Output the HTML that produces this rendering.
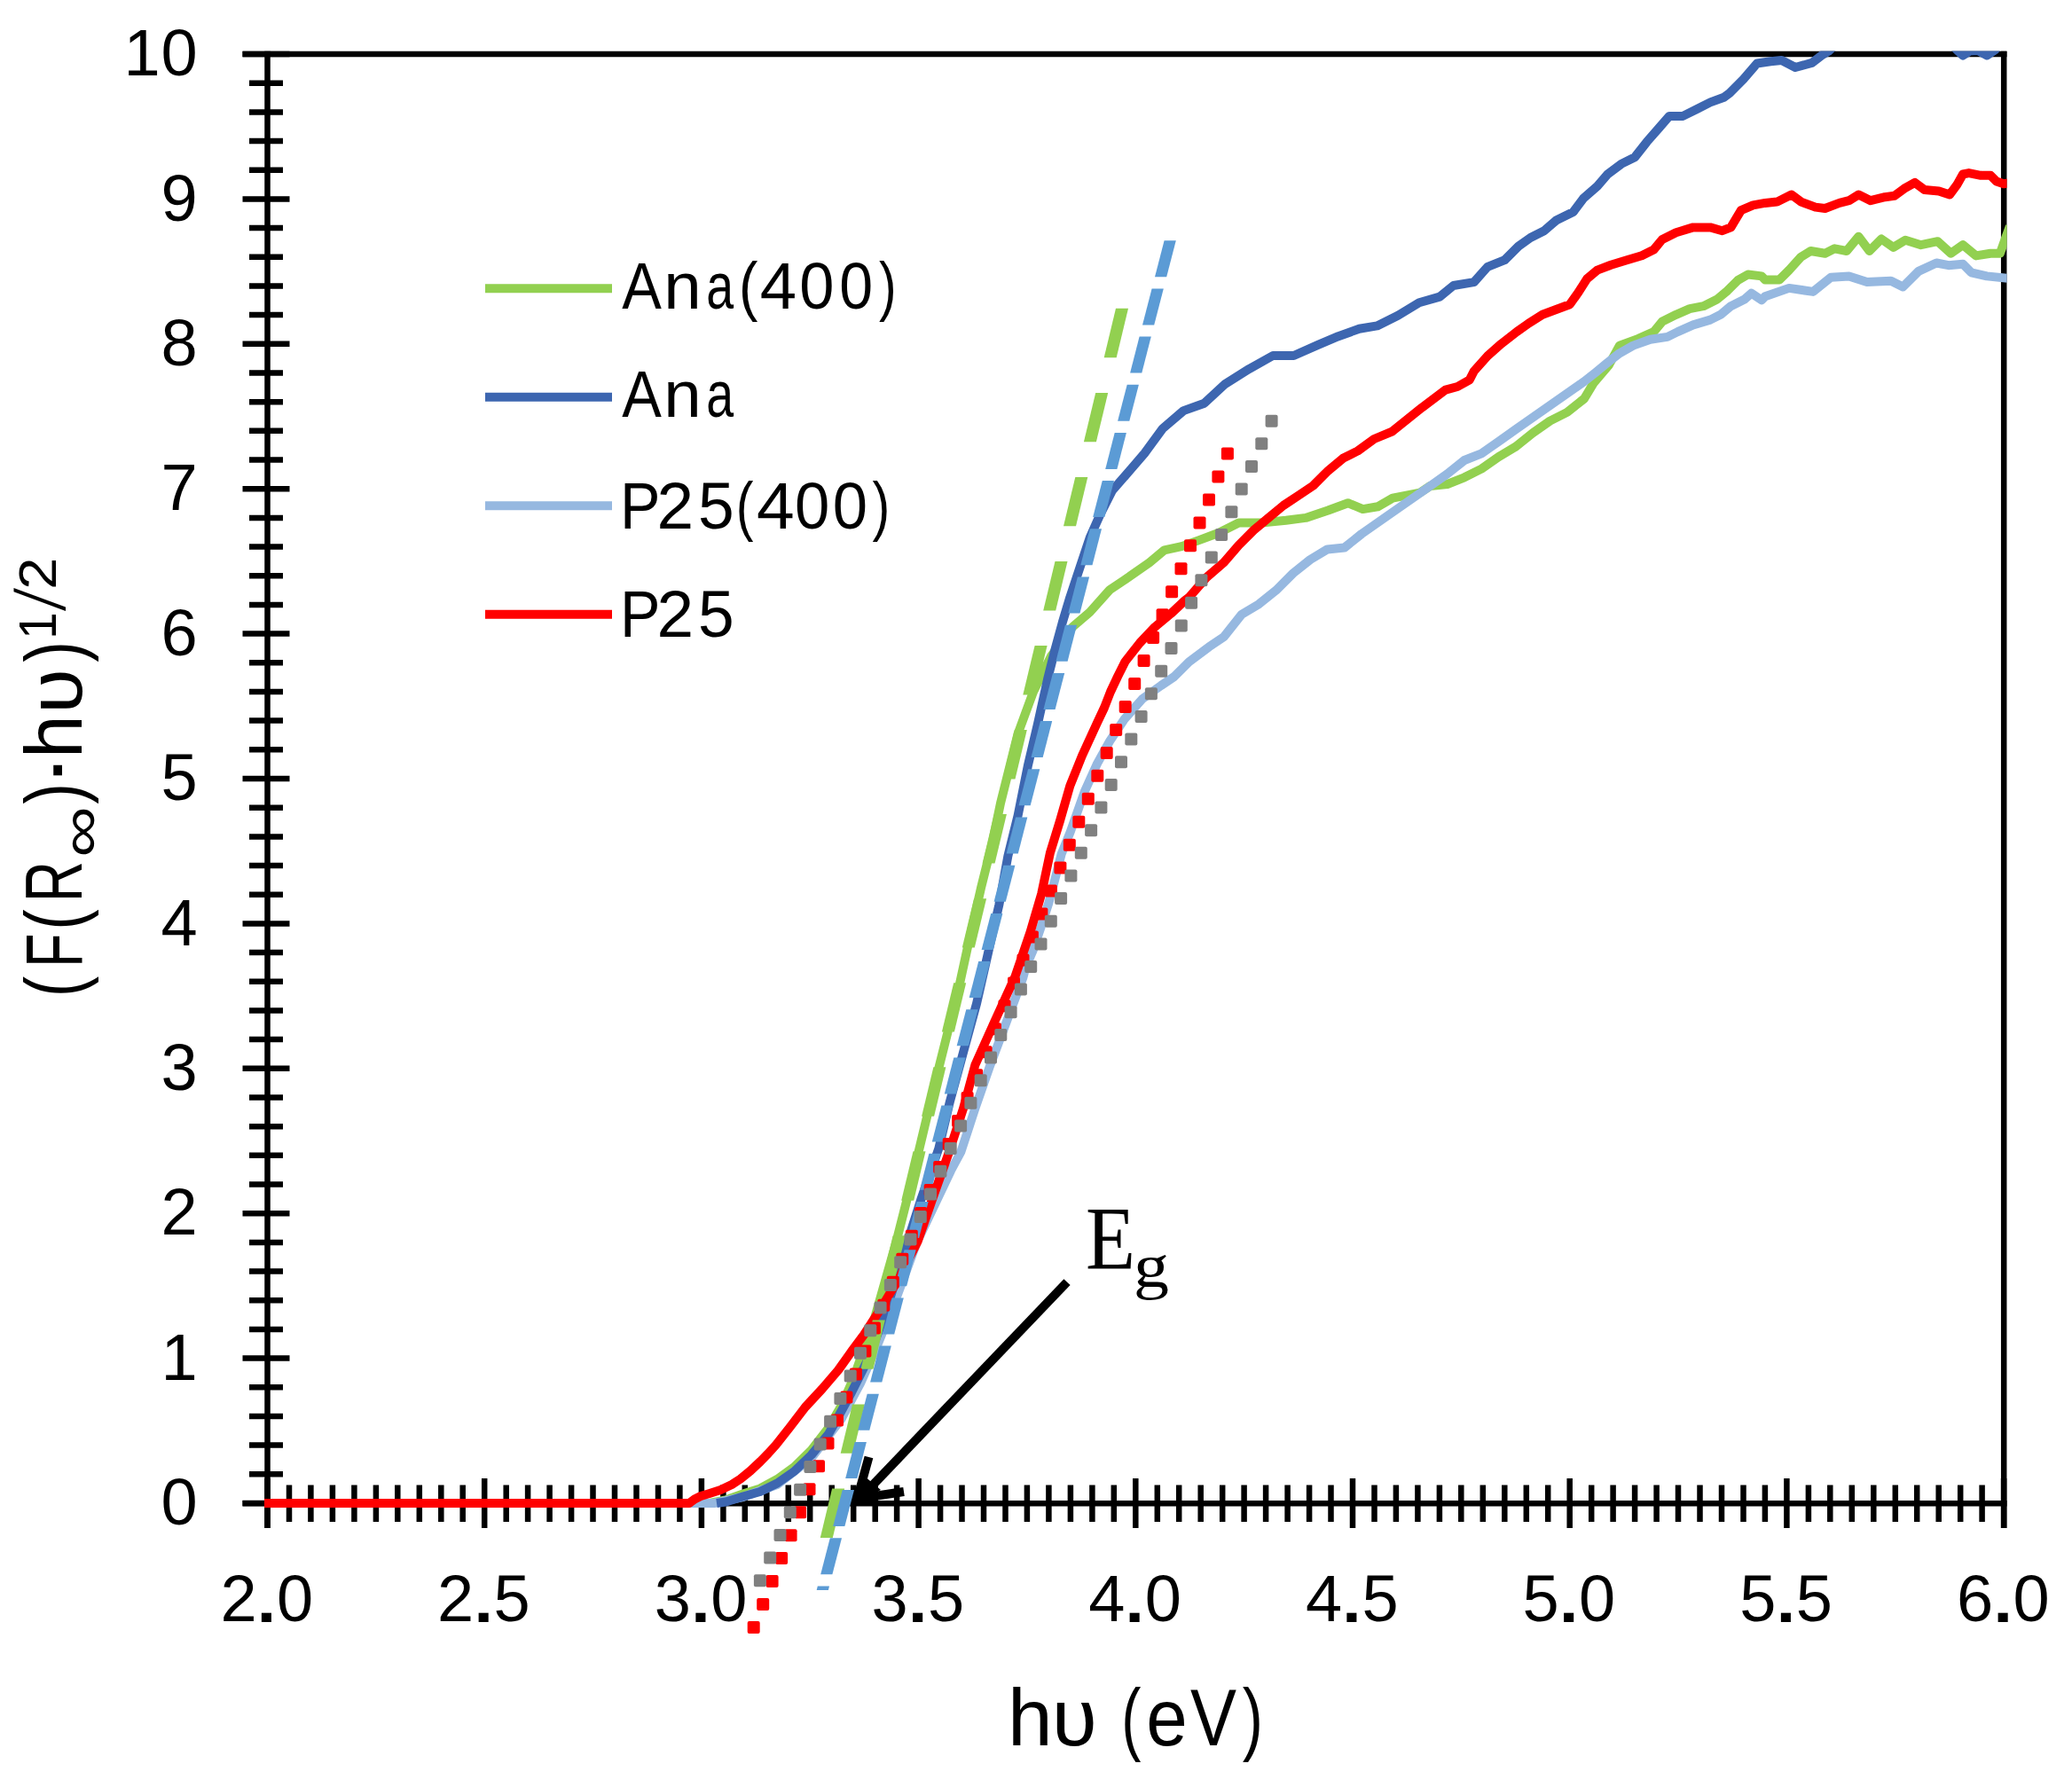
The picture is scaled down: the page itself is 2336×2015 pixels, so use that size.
<!DOCTYPE html>
<html><head><meta charset="utf-8"><title>Tauc plot</title>
<style>
html,body{margin:0;padding:0;background:#fff;}
body{width:2336px;height:2015px;overflow:hidden;}
svg{display:block;font-family:"Liberation Sans", Arial, sans-serif;}
</style></head>
<body>
<svg width="2336" height="2015" viewBox="0 0 2336 2015">
<defs><clipPath id="pc"><rect x="298" y="57.6" width="1964.6" height="1650"/></clipPath></defs>
<rect width="2336" height="2015" fill="#fff"/>
<g stroke="#000" stroke-width="6.5">
<line x1="273.5" y1="61.0" x2="2262.5" y2="61.0" />
<line x1="301.5" y1="57.7" x2="301.5" y2="1723" />
<line x1="2259.2" y1="57.7" x2="2259.2" y2="1723" />
<line x1="273.5" y1="1695.3" x2="2262.5" y2="1695.3" />
<line x1="273.5" y1="1695.0" x2="326.5" y2="1695.0" />
<line x1="281" y1="1662.3" x2="319" y2="1662.3" />
<line x1="281" y1="1629.6" x2="319" y2="1629.6" />
<line x1="281" y1="1597.0" x2="319" y2="1597.0" />
<line x1="281" y1="1564.3" x2="319" y2="1564.3" />
<line x1="273.5" y1="1531.6" x2="326.5" y2="1531.6" />
<line x1="281" y1="1498.9" x2="319" y2="1498.9" />
<line x1="281" y1="1466.2" x2="319" y2="1466.2" />
<line x1="281" y1="1433.6" x2="319" y2="1433.6" />
<line x1="281" y1="1400.9" x2="319" y2="1400.9" />
<line x1="273.5" y1="1368.2" x2="326.5" y2="1368.2" />
<line x1="281" y1="1335.5" x2="319" y2="1335.5" />
<line x1="281" y1="1302.8" x2="319" y2="1302.8" />
<line x1="281" y1="1270.2" x2="319" y2="1270.2" />
<line x1="281" y1="1237.5" x2="319" y2="1237.5" />
<line x1="273.5" y1="1204.8" x2="326.5" y2="1204.8" />
<line x1="281" y1="1172.1" x2="319" y2="1172.1" />
<line x1="281" y1="1139.4" x2="319" y2="1139.4" />
<line x1="281" y1="1106.8" x2="319" y2="1106.8" />
<line x1="281" y1="1074.1" x2="319" y2="1074.1" />
<line x1="273.5" y1="1041.4" x2="326.5" y2="1041.4" />
<line x1="281" y1="1008.7" x2="319" y2="1008.7" />
<line x1="281" y1="976.0" x2="319" y2="976.0" />
<line x1="281" y1="943.4" x2="319" y2="943.4" />
<line x1="281" y1="910.7" x2="319" y2="910.7" />
<line x1="273.5" y1="878.0" x2="326.5" y2="878.0" />
<line x1="281" y1="845.3" x2="319" y2="845.3" />
<line x1="281" y1="812.6" x2="319" y2="812.6" />
<line x1="281" y1="780.0" x2="319" y2="780.0" />
<line x1="281" y1="747.3" x2="319" y2="747.3" />
<line x1="273.5" y1="714.6" x2="326.5" y2="714.6" />
<line x1="281" y1="681.9" x2="319" y2="681.9" />
<line x1="281" y1="649.2" x2="319" y2="649.2" />
<line x1="281" y1="616.6" x2="319" y2="616.6" />
<line x1="281" y1="583.9" x2="319" y2="583.9" />
<line x1="273.5" y1="551.2" x2="326.5" y2="551.2" />
<line x1="281" y1="518.5" x2="319" y2="518.5" />
<line x1="281" y1="485.8" x2="319" y2="485.8" />
<line x1="281" y1="453.2" x2="319" y2="453.2" />
<line x1="281" y1="420.5" x2="319" y2="420.5" />
<line x1="273.5" y1="387.8" x2="326.5" y2="387.8" />
<line x1="281" y1="355.1" x2="319" y2="355.1" />
<line x1="281" y1="322.4" x2="319" y2="322.4" />
<line x1="281" y1="289.8" x2="319" y2="289.8" />
<line x1="281" y1="257.1" x2="319" y2="257.1" />
<line x1="273.5" y1="224.4" x2="326.5" y2="224.4" />
<line x1="281" y1="191.7" x2="319" y2="191.7" />
<line x1="281" y1="159.0" x2="319" y2="159.0" />
<line x1="281" y1="126.4" x2="319" y2="126.4" />
<line x1="281" y1="93.7" x2="319" y2="93.7" />
<line x1="273.5" y1="61.0" x2="326.5" y2="61.0" />
<line x1="301.5" y1="1667" x2="301.5" y2="1723" />
<line x1="326.0" y1="1674.5" x2="326.0" y2="1716" />
<line x1="350.4" y1="1674.5" x2="350.4" y2="1716" />
<line x1="374.9" y1="1674.5" x2="374.9" y2="1716" />
<line x1="399.4" y1="1674.5" x2="399.4" y2="1716" />
<line x1="423.9" y1="1674.5" x2="423.9" y2="1716" />
<line x1="448.3" y1="1674.5" x2="448.3" y2="1716" />
<line x1="472.8" y1="1674.5" x2="472.8" y2="1716" />
<line x1="497.3" y1="1674.5" x2="497.3" y2="1716" />
<line x1="521.7" y1="1674.5" x2="521.7" y2="1716" />
<line x1="546.2" y1="1667" x2="546.2" y2="1723" />
<line x1="570.7" y1="1674.5" x2="570.7" y2="1716" />
<line x1="595.1" y1="1674.5" x2="595.1" y2="1716" />
<line x1="619.6" y1="1674.5" x2="619.6" y2="1716" />
<line x1="644.1" y1="1674.5" x2="644.1" y2="1716" />
<line x1="668.5" y1="1674.5" x2="668.5" y2="1716" />
<line x1="693.0" y1="1674.5" x2="693.0" y2="1716" />
<line x1="717.5" y1="1674.5" x2="717.5" y2="1716" />
<line x1="742.0" y1="1674.5" x2="742.0" y2="1716" />
<line x1="766.4" y1="1674.5" x2="766.4" y2="1716" />
<line x1="790.9" y1="1667" x2="790.9" y2="1723" />
<line x1="815.4" y1="1674.5" x2="815.4" y2="1716" />
<line x1="839.8" y1="1674.5" x2="839.8" y2="1716" />
<line x1="864.3" y1="1674.5" x2="864.3" y2="1716" />
<line x1="888.8" y1="1674.5" x2="888.8" y2="1716" />
<line x1="913.2" y1="1674.5" x2="913.2" y2="1716" />
<line x1="937.7" y1="1674.5" x2="937.7" y2="1716" />
<line x1="962.2" y1="1674.5" x2="962.2" y2="1716" />
<line x1="986.7" y1="1674.5" x2="986.7" y2="1716" />
<line x1="1011.1" y1="1674.5" x2="1011.1" y2="1716" />
<line x1="1035.6" y1="1667" x2="1035.6" y2="1723" />
<line x1="1060.1" y1="1674.5" x2="1060.1" y2="1716" />
<line x1="1084.5" y1="1674.5" x2="1084.5" y2="1716" />
<line x1="1109.0" y1="1674.5" x2="1109.0" y2="1716" />
<line x1="1133.5" y1="1674.5" x2="1133.5" y2="1716" />
<line x1="1157.9" y1="1674.5" x2="1157.9" y2="1716" />
<line x1="1182.4" y1="1674.5" x2="1182.4" y2="1716" />
<line x1="1206.9" y1="1674.5" x2="1206.9" y2="1716" />
<line x1="1231.4" y1="1674.5" x2="1231.4" y2="1716" />
<line x1="1255.8" y1="1674.5" x2="1255.8" y2="1716" />
<line x1="1280.3" y1="1667" x2="1280.3" y2="1723" />
<line x1="1304.8" y1="1674.5" x2="1304.8" y2="1716" />
<line x1="1329.2" y1="1674.5" x2="1329.2" y2="1716" />
<line x1="1353.7" y1="1674.5" x2="1353.7" y2="1716" />
<line x1="1378.2" y1="1674.5" x2="1378.2" y2="1716" />
<line x1="1402.6" y1="1674.5" x2="1402.6" y2="1716" />
<line x1="1427.1" y1="1674.5" x2="1427.1" y2="1716" />
<line x1="1451.6" y1="1674.5" x2="1451.6" y2="1716" />
<line x1="1476.1" y1="1674.5" x2="1476.1" y2="1716" />
<line x1="1500.5" y1="1674.5" x2="1500.5" y2="1716" />
<line x1="1525.0" y1="1667" x2="1525.0" y2="1723" />
<line x1="1549.5" y1="1674.5" x2="1549.5" y2="1716" />
<line x1="1573.9" y1="1674.5" x2="1573.9" y2="1716" />
<line x1="1598.4" y1="1674.5" x2="1598.4" y2="1716" />
<line x1="1622.9" y1="1674.5" x2="1622.9" y2="1716" />
<line x1="1647.3" y1="1674.5" x2="1647.3" y2="1716" />
<line x1="1671.8" y1="1674.5" x2="1671.8" y2="1716" />
<line x1="1696.3" y1="1674.5" x2="1696.3" y2="1716" />
<line x1="1720.8" y1="1674.5" x2="1720.8" y2="1716" />
<line x1="1745.2" y1="1674.5" x2="1745.2" y2="1716" />
<line x1="1769.7" y1="1667" x2="1769.7" y2="1723" />
<line x1="1794.2" y1="1674.5" x2="1794.2" y2="1716" />
<line x1="1818.6" y1="1674.5" x2="1818.6" y2="1716" />
<line x1="1843.1" y1="1674.5" x2="1843.1" y2="1716" />
<line x1="1867.6" y1="1674.5" x2="1867.6" y2="1716" />
<line x1="1892.0" y1="1674.5" x2="1892.0" y2="1716" />
<line x1="1916.5" y1="1674.5" x2="1916.5" y2="1716" />
<line x1="1941.0" y1="1674.5" x2="1941.0" y2="1716" />
<line x1="1965.5" y1="1674.5" x2="1965.5" y2="1716" />
<line x1="1989.9" y1="1674.5" x2="1989.9" y2="1716" />
<line x1="2014.4" y1="1667" x2="2014.4" y2="1723" />
<line x1="2038.9" y1="1674.5" x2="2038.9" y2="1716" />
<line x1="2063.3" y1="1674.5" x2="2063.3" y2="1716" />
<line x1="2087.8" y1="1674.5" x2="2087.8" y2="1716" />
<line x1="2112.3" y1="1674.5" x2="2112.3" y2="1716" />
<line x1="2136.8" y1="1674.5" x2="2136.8" y2="1716" />
<line x1="2161.2" y1="1674.5" x2="2161.2" y2="1716" />
<line x1="2185.7" y1="1674.5" x2="2185.7" y2="1716" />
<line x1="2210.2" y1="1674.5" x2="2210.2" y2="1716" />
<line x1="2234.6" y1="1674.5" x2="2234.6" y2="1716" />
<line x1="2259.1" y1="1667" x2="2259.1" y2="1723" />
</g>
<g clip-path="url(#pc)" fill="none" stroke-width="10" stroke-linejoin="round" stroke-linecap="butt">
<path d="M298.0,1695.0 L800.0,1695.0 L818.0,1691.5 L837.6,1684.5 L856.9,1678.5 L876.2,1668.0 L895.5,1654.0 L914.8,1635.0 L934.1,1610.0 L948.6,1585.0 L962.0,1555.0 L985.0,1490.0 L1010.5,1400.0 L1025.6,1340.4 L1040.7,1277.5 L1055.8,1214.5 L1068.4,1164.1 L1081.0,1113.7 L1093.6,1055.8 L1106.2,1000.4 L1118.8,950.0 L1128.0,905.7 L1147.6,827.4 L1165.0,780.0 L1185.0,740.0 L1209.1,707.0 L1228.7,690.3 L1251.1,665.1 L1267.9,653.9 L1295.9,634.3 L1312.6,620.3 L1332.2,616.1 L1351.8,609.1 L1374.2,600.7 L1396.6,589.5 L1421.8,589.5 L1449.8,586.7 L1472.1,583.9 L1497.3,575.5 L1519.7,567.2 L1536.5,574.1 L1553.3,571.3 L1570.1,561.6 L1600.8,555.7 L1612.4,548.0 L1631.7,546.0 L1651.0,538.3 L1670.3,528.6 L1689.6,515.1 L1708.9,503.6 L1728.2,488.1 L1747.5,474.6 L1766.8,464.9 L1786.1,449.5 L1796.8,431.7 L1813.6,412.1 L1825.9,389.6 L1847.1,381.9 L1864.5,374.1 L1874.1,362.5 L1889.6,354.8 L1905.0,348.1 L1920.5,345.2 L1935.9,337.5 L1947.5,327.8 L1959.1,316.2 L1970.7,309.5 L1986.1,311.4 L1990.0,315.4 L2006.2,315.4 L2017.0,304.6 L2030.5,289.7 L2041.4,283.0 L2057.6,285.7 L2068.4,280.3 L2081.9,283.0 L2095.4,266.8 L2107.6,283.0 L2121.1,269.5 L2134.6,278.9 L2148.1,270.8 L2165.7,276.2 L2184.6,272.2 L2199.5,285.7 L2213.0,276.2 L2227.8,288.4 L2244.1,285.7 L2254.9,285.7 L2261.6,266.8 L2266.0,255.0" stroke="#92D050"/>
<path d="M298.0,1695.0 L805.0,1695.0 L837.6,1688.0 L876.2,1674.0 L914.8,1644.0 L948.6,1600.0 L970.0,1560.0 L990.0,1515.0 L1010.0,1465.0 L1034.0,1400.0 L1053.0,1360.0 L1072.0,1320.0 L1083.3,1299.0 L1099.3,1250.0 L1116.5,1200.7 L1135.0,1151.5 L1153.4,1102.3 L1156.3,1091.1 L1164.9,1071.0 L1173.4,1045.8 L1182.5,1017.6 L1189.6,990.4 L1196.6,963.2 L1206.7,938.1 L1223.1,891.7 L1237.1,860.9 L1251.1,835.8 L1267.9,810.6 L1288.0,788.0 L1309.0,773.0 L1323.8,763.0 L1340.6,746.2 L1363.0,729.4 L1379.8,718.2 L1400.0,692.7 L1419.3,681.2 L1438.6,665.7 L1457.9,646.4 L1477.2,631.0 L1496.5,619.4 L1515.8,617.5 L1535.1,602.0 L1554.4,588.5 L1573.7,575.0 L1593.1,561.5 L1612.4,548.0 L1631.7,534.4 L1651.0,519.0 L1670.3,511.3 L1689.6,497.8 L1708.9,484.2 L1728.2,470.7 L1747.5,457.2 L1766.8,443.7 L1786.1,430.2 L1798.8,420.1 L1812.4,408.9 L1825.9,398.3 L1841.3,389.6 L1860.6,382.8 L1879.9,379.9 L1891.5,374.1 L1908.9,366.4 L1928.2,360.6 L1939.8,354.8 L1951.4,345.2 L1966.8,337.5 L1974.5,330.7 L1986.1,338.4 L1990.0,334.3 L2017.0,324.9 L2044.1,328.9 L2064.3,312.7 L2084.6,311.4 L2104.9,318.1 L2131.9,316.8 L2145.4,323.5 L2163.0,305.9 L2183.2,296.5 L2196.8,299.2 L2213.0,297.8 L2222.4,307.3 L2240.0,311.4 L2266.0,314.1" stroke="#96B8E0"/>
<path d="M808.0,1695.0 L818.3,1693.5 L837.6,1687.5 L856.9,1682.0 L876.2,1672.5 L895.5,1659.0 L914.8,1640.5 L934.1,1617.0 L948.6,1591.0 L960.0,1570.0 L980.0,1530.0 L1000.0,1475.0 L1020.0,1410.0 L1038.2,1353.0 L1058.3,1295.1 L1070.9,1242.2 L1086.0,1186.8 L1101.1,1131.4 L1113.7,1075.9 L1126.3,1020.5 L1136.4,965.1 L1147.6,919.7 L1158.8,863.7 L1170.0,816.2 L1181.1,765.8 L1189.5,732.2 L1197.9,701.5 L1206.3,673.5 L1217.5,639.9 L1228.7,606.3 L1239.9,581.1 L1253.9,553.2 L1273.5,530.8 L1290.3,511.2 L1310.8,483.3 L1334.3,463.1 L1357.8,454.7 L1381.3,432.9 L1408.2,416.1 L1435.1,401.0 L1458.6,401.0 L1485.4,389.2 L1508.9,379.2 L1532.4,370.8 L1552.6,367.4 L1576.1,355.7 L1600.0,341.3 L1623.2,334.6 L1638.6,322.0 L1661.8,318.1 L1677.2,300.8 L1696.5,293.1 L1712.0,277.6 L1725.5,268.0 L1740.9,260.2 L1754.4,248.6 L1773.7,239.0 L1785.3,223.6 L1800.8,210.0 L1812.4,196.5 L1827.8,184.9 L1843.2,177.2 L1856.8,159.8 L1870.3,144.4 L1881.9,130.9 L1897.3,130.9 L1912.7,123.2 L1928.2,115.4 L1943.6,109.7 L1950.0,104.9 L1965.4,89.4 L1980.9,71.5 L1996.3,69.3 L2008.7,68.0 L2024.1,76.0 L2042.7,70.9 L2055.0,61.6 L2061.2,58.0 L2075.0,45.0 L2120.0,35.0 L2160.0,38.0 L2195.0,45.0 L2206.0,56.0 L2213.0,62.5 L2221.0,57.5 L2230.0,57.0 L2240.3,62.5 L2249.0,56.5 L2256.0,48.0 L2266.0,44.0" stroke="#3D66B0"/>
<path d="M298.0,1695.0 L776.0,1695.0 L777.0,1695.0 L783.0,1690.5 L790.0,1687.0 L800.0,1684.0 L812.4,1680.0 L825.0,1674.0 L834.8,1667.6 L846.0,1658.5 L857.2,1648.0 L866.0,1639.0 L875.0,1629.0 L890.0,1610.0 L908.0,1586.5 L927.0,1566.0 L945.0,1545.0 L961.0,1522.5 L974.0,1505.0 L994.0,1474.0 L1014.0,1440.4 L1034.5,1400.0 L1050.8,1353.0 L1070.0,1299.0 L1086.0,1250.0 L1099.4,1200.7 L1121.5,1151.5 L1144.5,1101.0 L1161.6,1050.8 L1174.2,1007.9 L1183.9,961.7 L1195.1,925.3 L1206.3,886.1 L1220.0,852.0 L1236.5,816.0 L1245.0,798.0 L1252.0,780.0 L1260.0,763.0 L1268.5,746.0 L1285.0,725.0 L1302.0,707.0 L1320.0,692.0 L1336.0,677.0 L1340.6,673.5 L1360.2,651.1 L1379.8,634.3 L1396.6,614.7 L1413.4,597.9 L1430.2,583.9 L1446.9,570.0 L1463.7,558.8 L1480.5,547.6 L1497.3,530.8 L1514.1,516.8 L1530.9,508.4 L1549.2,495.0 L1569.4,486.6 L1586.2,473.2 L1603.0,459.7 L1629.8,439.6 L1643.2,436.0 L1656.8,428.3 L1661.8,418.5 L1677.2,401.2 L1692.7,387.6 L1710.0,374.1 L1723.6,364.5 L1739.0,354.8 L1754.4,349.0 L1769.9,343.2 L1779.5,329.7 L1789.2,314.3 L1800.8,304.6 L1816.2,298.8 L1831.7,294.0 L1851.0,288.2 L1864.5,281.5 L1874.1,269.9 L1889.6,262.2 L1908.9,256.4 L1928.2,256.4 L1941.7,260.2 L1951.4,256.4 L1962.9,237.1 L1976.4,231.3 L1990.0,228.9 L2003.5,227.6 L2019.7,219.5 L2030.5,227.6 L2046.8,233.6 L2057.6,235.0 L2073.8,228.9 L2084.6,226.2 L2095.4,219.5 L2108.9,226.2 L2125.1,222.2 L2135.9,220.8 L2146.8,212.7 L2158.9,205.9 L2169.7,214.1 L2185.9,215.4 L2198.1,219.5 L2206.2,208.6 L2213.0,196.5 L2219.7,195.1 L2233.2,197.8 L2244.1,197.8 L2250.8,204.6 L2258.9,207.3 L2266.0,206.0" stroke="#FF0000"/>
</g>
<g fill="#92D050"><polygon points="1258.0,347.8 1272.0,347.8 1258.7,403.2 1244.7,403.2"/><polygon points="1235.2,442.9 1249.2,442.9 1235.9,498.2 1221.9,498.2"/><polygon points="1212.3,537.9 1226.3,537.9 1213.0,593.3 1199.0,593.3"/><polygon points="1189.5,633.0 1203.5,633.0 1190.2,688.4 1176.2,688.4"/><polygon points="1166.6,728.0 1180.6,728.0 1167.3,783.4 1153.3,783.4"/><polygon points="1143.8,823.0 1157.8,823.0 1144.5,878.4 1130.5,878.4"/><polygon points="1120.9,918.1 1134.9,918.1 1121.6,973.5 1107.6,973.5"/><polygon points="1098.1,1013.2 1112.1,1013.2 1098.8,1068.6 1084.8,1068.6"/><polygon points="1075.2,1108.2 1089.2,1108.2 1075.9,1163.6 1061.9,1163.6"/><polygon points="1052.4,1203.2 1066.4,1203.2 1053.1,1258.7 1039.1,1258.7"/><polygon points="1029.5,1298.3 1043.5,1298.3 1030.2,1353.7 1016.2,1353.7"/><polygon points="1006.7,1393.3 1020.7,1393.3 1007.4,1448.8 993.4,1448.8"/><polygon points="983.8,1488.4 997.8,1488.4 984.5,1543.8 970.5,1543.8"/><polygon points="961.0,1583.4 975.0,1583.4 961.7,1638.8 947.7,1638.8"/><polygon points="938.1,1678.5 952.1,1678.5 938.8,1733.9 924.8,1733.9"/></g>
<g fill="#5B9BD5"><polygon points="1312.6,271.2 1325.8,271.2 1315.2,312.2 1302.0,312.2"/><polygon points="1298.6,325.4 1311.8,325.4 1301.2,366.4 1288.0,366.4"/><polygon points="1284.6,379.6 1297.8,379.6 1287.3,420.6 1274.1,420.6"/><polygon points="1270.7,433.8 1283.9,433.8 1273.3,474.8 1260.1,474.8"/><polygon points="1256.7,488.0 1269.9,488.0 1259.4,529.0 1246.2,529.0"/><polygon points="1242.8,542.1 1256.0,542.1 1245.4,583.1 1232.2,583.1"/><polygon points="1228.8,596.3 1242.0,596.3 1231.5,637.3 1218.3,637.3"/><polygon points="1214.9,650.5 1228.1,650.5 1217.5,691.5 1204.3,691.5"/><polygon points="1200.9,704.7 1214.1,704.7 1203.6,745.7 1190.4,745.7"/><polygon points="1187.0,758.9 1200.2,758.9 1189.6,799.9 1176.4,799.9"/><polygon points="1173.0,813.1 1186.2,813.1 1175.7,854.1 1162.5,854.1"/><polygon points="1159.1,867.3 1172.3,867.3 1161.7,908.3 1148.5,908.3"/><polygon points="1145.1,921.5 1158.3,921.5 1147.8,962.5 1134.6,962.5"/><polygon points="1131.2,975.7 1144.4,975.7 1133.8,1016.7 1120.6,1016.7"/><polygon points="1117.2,1029.9 1130.4,1029.9 1119.8,1070.9 1106.6,1070.9"/><polygon points="1103.2,1084.0 1116.4,1084.0 1105.9,1125.0 1092.7,1125.0"/><polygon points="1089.3,1138.2 1102.5,1138.2 1091.9,1179.2 1078.7,1179.2"/><polygon points="1075.3,1192.4 1088.5,1192.4 1078.0,1233.4 1064.8,1233.4"/><polygon points="1061.4,1246.6 1074.6,1246.6 1064.0,1287.6 1050.8,1287.6"/><polygon points="1047.4,1300.8 1060.6,1300.8 1050.1,1341.8 1036.9,1341.8"/><polygon points="1033.5,1355.0 1046.7,1355.0 1036.1,1396.0 1022.9,1396.0"/><polygon points="1019.5,1409.2 1032.7,1409.2 1022.2,1450.2 1009.0,1450.2"/><polygon points="1005.6,1463.4 1018.8,1463.4 1008.2,1504.4 995.0,1504.4"/><polygon points="991.6,1517.6 1004.8,1517.6 994.3,1558.6 981.1,1558.6"/><polygon points="977.7,1571.8 990.9,1571.8 980.3,1612.8 967.1,1612.8"/><polygon points="963.7,1626.0 976.9,1626.0 966.4,1667.0 953.2,1667.0"/><polygon points="949.8,1680.1 963.0,1680.1 952.4,1721.1 939.2,1721.1"/><polygon points="935.8,1734.3 949.0,1734.3 938.4,1775.3 925.2,1775.3"/><polygon points="921.8,1788.5 935.0,1788.5 933.9,1793.0 920.7,1793.0"/></g>
<g fill="#FF0000"><rect x="1376.9" y="504.5" width="14" height="14" rx="2"/><rect x="1366.4" y="530.5" width="14" height="14" rx="2"/><rect x="1356.0" y="556.4" width="14" height="14" rx="2"/><rect x="1345.5" y="582.4" width="14" height="14" rx="2"/><rect x="1335.0" y="608.3" width="14" height="14" rx="2"/><rect x="1324.5" y="634.3" width="14" height="14" rx="2"/><rect x="1314.1" y="660.2" width="14" height="14" rx="2"/><rect x="1303.6" y="686.2" width="14" height="14" rx="2"/><rect x="1293.1" y="712.1" width="14" height="14" rx="2"/><rect x="1282.6" y="738.1" width="14" height="14" rx="2"/><rect x="1272.2" y="764.0" width="14" height="14" rx="2"/><rect x="1261.7" y="790.0" width="14" height="14" rx="2"/><rect x="1251.2" y="815.9" width="14" height="14" rx="2"/><rect x="1240.7" y="841.9" width="14" height="14" rx="2"/><rect x="1230.3" y="867.8" width="14" height="14" rx="2"/><rect x="1219.8" y="893.8" width="14" height="14" rx="2"/><rect x="1209.3" y="919.7" width="14" height="14" rx="2"/><rect x="1198.8" y="945.7" width="14" height="14" rx="2"/><rect x="1188.4" y="971.6" width="14" height="14" rx="2"/><rect x="1177.9" y="997.6" width="14" height="14" rx="2"/><rect x="1167.4" y="1023.5" width="14" height="14" rx="2"/><rect x="1156.9" y="1049.5" width="14" height="14" rx="2"/><rect x="1146.5" y="1075.4" width="14" height="14" rx="2"/><rect x="1136.0" y="1101.4" width="14" height="14" rx="2"/><rect x="1125.5" y="1127.3" width="14" height="14" rx="2"/><rect x="1115.0" y="1153.3" width="14" height="14" rx="2"/><rect x="1104.6" y="1179.2" width="14" height="14" rx="2"/><rect x="1094.1" y="1205.2" width="14" height="14" rx="2"/><rect x="1083.6" y="1231.1" width="14" height="14" rx="2"/><rect x="1073.1" y="1257.1" width="14" height="14" rx="2"/><rect x="1062.7" y="1283.0" width="14" height="14" rx="2"/><rect x="1052.2" y="1309.0" width="14" height="14" rx="2"/><rect x="1041.7" y="1334.9" width="14" height="14" rx="2"/><rect x="1031.2" y="1360.9" width="14" height="14" rx="2"/><rect x="1020.8" y="1386.8" width="14" height="14" rx="2"/><rect x="1010.3" y="1412.8" width="14" height="14" rx="2"/><rect x="999.8" y="1438.7" width="14" height="14" rx="2"/><rect x="989.3" y="1464.7" width="14" height="14" rx="2"/><rect x="978.9" y="1490.6" width="14" height="14" rx="2"/><rect x="968.4" y="1516.6" width="14" height="14" rx="2"/><rect x="957.9" y="1542.5" width="14" height="14" rx="2"/><rect x="947.4" y="1568.5" width="14" height="14" rx="2"/><rect x="937.0" y="1594.4" width="14" height="14" rx="2"/><rect x="926.5" y="1620.4" width="14" height="14" rx="2"/><rect x="916.0" y="1646.3" width="14" height="14" rx="2"/><rect x="905.5" y="1672.3" width="14" height="14" rx="2"/><rect x="895.1" y="1698.2" width="14" height="14" rx="2"/><rect x="884.6" y="1724.2" width="14" height="14" rx="2"/><rect x="874.1" y="1750.1" width="14" height="14" rx="2"/><rect x="863.6" y="1776.1" width="14" height="14" rx="2"/><rect x="853.2" y="1802.0" width="14" height="14" rx="2"/><rect x="842.7" y="1828.0" width="14" height="14" rx="2"/></g>
<g fill="#808080"><rect x="1426.6" y="467.7" width="14" height="14" rx="2"/><rect x="1415.3" y="493.3" width="14" height="14" rx="2"/><rect x="1404.0" y="519.0" width="14" height="14" rx="2"/><rect x="1392.7" y="544.6" width="14" height="14" rx="2"/><rect x="1381.4" y="570.2" width="14" height="14" rx="2"/><rect x="1370.1" y="595.9" width="14" height="14" rx="2"/><rect x="1358.8" y="621.5" width="14" height="14" rx="2"/><rect x="1347.4" y="647.2" width="14" height="14" rx="2"/><rect x="1336.1" y="672.8" width="14" height="14" rx="2"/><rect x="1324.8" y="698.4" width="14" height="14" rx="2"/><rect x="1313.5" y="724.1" width="14" height="14" rx="2"/><rect x="1302.2" y="749.7" width="14" height="14" rx="2"/><rect x="1290.9" y="775.3" width="14" height="14" rx="2"/><rect x="1279.6" y="801.0" width="14" height="14" rx="2"/><rect x="1268.3" y="826.6" width="14" height="14" rx="2"/><rect x="1257.0" y="852.3" width="14" height="14" rx="2"/><rect x="1245.7" y="877.9" width="14" height="14" rx="2"/><rect x="1234.4" y="903.5" width="14" height="14" rx="2"/><rect x="1223.1" y="929.2" width="14" height="14" rx="2"/><rect x="1211.8" y="954.8" width="14" height="14" rx="2"/><rect x="1200.4" y="980.4" width="14" height="14" rx="2"/><rect x="1189.1" y="1006.1" width="14" height="14" rx="2"/><rect x="1177.8" y="1031.7" width="14" height="14" rx="2"/><rect x="1166.5" y="1057.4" width="14" height="14" rx="2"/><rect x="1155.2" y="1083.0" width="14" height="14" rx="2"/><rect x="1143.9" y="1108.6" width="14" height="14" rx="2"/><rect x="1132.6" y="1134.3" width="14" height="14" rx="2"/><rect x="1121.3" y="1159.9" width="14" height="14" rx="2"/><rect x="1110.0" y="1185.5" width="14" height="14" rx="2"/><rect x="1098.7" y="1211.2" width="14" height="14" rx="2"/><rect x="1087.4" y="1236.8" width="14" height="14" rx="2"/><rect x="1076.1" y="1262.5" width="14" height="14" rx="2"/><rect x="1064.7" y="1288.1" width="14" height="14" rx="2"/><rect x="1053.4" y="1313.7" width="14" height="14" rx="2"/><rect x="1042.1" y="1339.4" width="14" height="14" rx="2"/><rect x="1030.8" y="1365.0" width="14" height="14" rx="2"/><rect x="1019.5" y="1390.6" width="14" height="14" rx="2"/><rect x="1008.2" y="1416.3" width="14" height="14" rx="2"/><rect x="996.9" y="1441.9" width="14" height="14" rx="2"/><rect x="985.6" y="1467.6" width="14" height="14" rx="2"/><rect x="974.3" y="1493.2" width="14" height="14" rx="2"/><rect x="963.0" y="1518.8" width="14" height="14" rx="2"/><rect x="951.7" y="1544.5" width="14" height="14" rx="2"/><rect x="940.4" y="1570.1" width="14" height="14" rx="2"/><rect x="929.1" y="1595.7" width="14" height="14" rx="2"/><rect x="917.7" y="1621.4" width="14" height="14" rx="2"/><rect x="906.4" y="1647.0" width="14" height="14" rx="2"/><rect x="895.1" y="1672.7" width="14" height="14" rx="2"/><rect x="883.8" y="1698.3" width="14" height="14" rx="2"/><rect x="872.5" y="1723.9" width="14" height="14" rx="2"/><rect x="861.2" y="1749.6" width="14" height="14" rx="2"/><rect x="849.9" y="1775.2" width="14" height="14" rx="2"/></g>
<g stroke="#000" fill="none" stroke-linecap="butt">
<line x1="1203" y1="1445.6" x2="973" y2="1686" stroke-width="10"/>
<polyline points="979.5,1643 966.5,1690 1019,1682" stroke-width="10" stroke-linejoin="miter" stroke-miterlimit="10"/>
<polygon points="965,1694 974,1664 993,1680" fill="#000" stroke="none"/>
</g>
<g stroke-width="10">
<line x1="547" y1="325.2" x2="690" y2="325.2" stroke="#92D050"/>
<line x1="547" y1="447.7" x2="690" y2="447.7" stroke="#3D66B0"/>
<line x1="547" y1="570.3" x2="690" y2="570.3" stroke="#96B8E0"/>
<line x1="547" y1="692.7" x2="690" y2="692.7" stroke="#FF0000"/>
</g>
<text x="701.2" y="347.8" font-size="75" textLength="44.6" lengthAdjust="spacingAndGlyphs">A</text><text x="748.3" y="347.8" font-size="75" textLength="42.5" lengthAdjust="spacingAndGlyphs">n</text><text x="796.3" y="347.8" font-size="75" textLength="30.9" lengthAdjust="spacingAndGlyphs">a</text><text x="833.1" y="347.8" font-size="75" textLength="21.4" lengthAdjust="spacingAndGlyphs">(</text><text x="856.8" y="347.8" font-size="75" textLength="41.3" lengthAdjust="spacingAndGlyphs">4</text><text x="901.2" y="347.8" font-size="75" textLength="39.2" lengthAdjust="spacingAndGlyphs">0</text><text x="946.3" y="347.8" font-size="75" textLength="37.9" lengthAdjust="spacingAndGlyphs">0</text><text x="991.0" y="347.8" font-size="75" textLength="19.7" lengthAdjust="spacingAndGlyphs">)</text><text x="701.2" y="469.5" font-size="75" textLength="44.6" lengthAdjust="spacingAndGlyphs">A</text><text x="748.3" y="469.5" font-size="75" textLength="42.5" lengthAdjust="spacingAndGlyphs">n</text><text x="796.3" y="469.5" font-size="75" textLength="30.9" lengthAdjust="spacingAndGlyphs">a</text><text x="698.9" y="596.1" font-size="75" textLength="45.5" lengthAdjust="spacingAndGlyphs">P</text><text x="740.6" y="596.1" font-size="75" textLength="41.6" lengthAdjust="spacingAndGlyphs">2</text><text x="786.9" y="596.1" font-size="75" textLength="40.7" lengthAdjust="spacingAndGlyphs">5</text><text x="829.8" y="596.1" font-size="75" textLength="19.7" lengthAdjust="spacingAndGlyphs">(</text><text x="853.0" y="596.1" font-size="75" textLength="42.7" lengthAdjust="spacingAndGlyphs">4</text><text x="896.1" y="596.1" font-size="75" textLength="39.3" lengthAdjust="spacingAndGlyphs">0</text><text x="938.8" y="596.1" font-size="75" textLength="39.3" lengthAdjust="spacingAndGlyphs">0</text><text x="983.4" y="596.1" font-size="75" textLength="19.8" lengthAdjust="spacingAndGlyphs">)</text><text x="698.9" y="718.3" font-size="75" textLength="45.5" lengthAdjust="spacingAndGlyphs">P</text><text x="740.6" y="718.3" font-size="75" textLength="41.6" lengthAdjust="spacingAndGlyphs">2</text><text x="786.9" y="718.3" font-size="75" textLength="40.7" lengthAdjust="spacingAndGlyphs">5</text>
<g font-size="74" fill="#000"><text x="202" y="1719.2" text-anchor="middle">0</text>
<text x="202" y="1555.8" text-anchor="middle">1</text>
<text x="202" y="1392.4" text-anchor="middle">2</text>
<text x="202" y="1229.0" text-anchor="middle">3</text>
<text x="202" y="1065.6" text-anchor="middle">4</text>
<text x="202" y="902.2" text-anchor="middle">5</text>
<text x="202" y="738.8" text-anchor="middle">6</text>
<text x="202" y="575.4" text-anchor="middle">7</text>
<text x="202" y="412.0" text-anchor="middle">8</text>
<text x="202" y="248.6" text-anchor="middle">9</text>
<text x="160" y="85.2" text-anchor="middle">1</text>
<text x="202" y="85.2" text-anchor="middle">0</text>
<text x="269.0" y="1828.3" text-anchor="middle">2</text>
<text x="284.3" y="1828.6" font-size="97" textLength="32.3" lengthAdjust="spacingAndGlyphs">.</text>
<text x="332.5" y="1828.3" text-anchor="middle">0</text>
<text x="513.7" y="1828.3" text-anchor="middle">2</text>
<text x="529.0" y="1828.6" font-size="97" textLength="32.3" lengthAdjust="spacingAndGlyphs">.</text>
<text x="577.2" y="1828.3" text-anchor="middle">5</text>
<text x="758.4" y="1828.3" text-anchor="middle">3</text>
<text x="773.7" y="1828.6" font-size="97" textLength="32.3" lengthAdjust="spacingAndGlyphs">.</text>
<text x="821.9" y="1828.3" text-anchor="middle">0</text>
<text x="1003.1" y="1828.3" text-anchor="middle">3</text>
<text x="1018.4" y="1828.6" font-size="97" textLength="32.3" lengthAdjust="spacingAndGlyphs">.</text>
<text x="1066.6" y="1828.3" text-anchor="middle">5</text>
<text x="1247.8" y="1828.3" text-anchor="middle">4</text>
<text x="1263.1" y="1828.6" font-size="97" textLength="32.3" lengthAdjust="spacingAndGlyphs">.</text>
<text x="1311.3" y="1828.3" text-anchor="middle">0</text>
<text x="1492.5" y="1828.3" text-anchor="middle">4</text>
<text x="1507.8" y="1828.6" font-size="97" textLength="32.3" lengthAdjust="spacingAndGlyphs">.</text>
<text x="1556.0" y="1828.3" text-anchor="middle">5</text>
<text x="1737.2" y="1828.3" text-anchor="middle">5</text>
<text x="1752.5" y="1828.6" font-size="97" textLength="32.3" lengthAdjust="spacingAndGlyphs">.</text>
<text x="1800.7" y="1828.3" text-anchor="middle">0</text>
<text x="1981.9" y="1828.3" text-anchor="middle">5</text>
<text x="1997.2" y="1828.6" font-size="97" textLength="32.3" lengthAdjust="spacingAndGlyphs">.</text>
<text x="2045.4" y="1828.3" text-anchor="middle">5</text>
<text x="2226.6" y="1828.3" text-anchor="middle">6</text>
<text x="2241.9" y="1828.6" font-size="97" textLength="32.3" lengthAdjust="spacingAndGlyphs">.</text>
<text x="2290.1" y="1828.3" text-anchor="middle">0</text></g>
<text x="1136.1" y="1968.0" font-size="90" textLength="50.7" lengthAdjust="spacingAndGlyphs">h</text><text x="1185.8" y="1968.0" font-size="90" textLength="51.2" lengthAdjust="spacingAndGlyphs">υ</text><text x="1264.3" y="1968.0" font-size="90" textLength="22.2" lengthAdjust="spacingAndGlyphs">(</text><text x="1292.3" y="1968.0" font-size="90" textLength="46.5" lengthAdjust="spacingAndGlyphs">e</text><text x="1342.0" y="1968.0" font-size="90" textLength="52.0" lengthAdjust="spacingAndGlyphs">V</text><text x="1400.7" y="1968.0" font-size="90" textLength="23.2" lengthAdjust="spacingAndGlyphs">)</text>
<g transform="translate(91.7,1120) rotate(-90)"><text x="-3.9" y="0.0" font-size="90" textLength="23.1" lengthAdjust="spacingAndGlyphs">(</text><text x="28.9" y="0.0" font-size="90" textLength="38.5" lengthAdjust="spacingAndGlyphs">F</text><text x="71.5" y="0.0" font-size="90" textLength="23.2" lengthAdjust="spacingAndGlyphs">(</text><text x="102.7" y="0.0" font-size="90" textLength="46.3" lengthAdjust="spacingAndGlyphs">R</text><text x="153.3" y="21.2" font-size="65" textLength="57.3" lengthAdjust="spacingAndGlyphs">∞</text><text x="213.2" y="0.0" font-size="90" textLength="23.8" lengthAdjust="spacingAndGlyphs">)</text><text x="231.3" y="-1.5" font-size="90" textLength="40.5" lengthAdjust="spacingAndGlyphs">·</text><text x="265.0" y="0.0" font-size="90" textLength="48.6" lengthAdjust="spacingAndGlyphs">h</text><text x="315.2" y="0.0" font-size="88" textLength="50.7" lengthAdjust="spacingAndGlyphs">υ</text><text x="373.2" y="0.0" font-size="90" textLength="23.8" lengthAdjust="spacingAndGlyphs">)</text><text x="399.3" y="-28.7" font-size="60" textLength="30.5" lengthAdjust="spacingAndGlyphs">1</text><text x="429.8" y="-25.0" font-size="72" textLength="28.7" lengthAdjust="spacingAndGlyphs" font-family="DejaVu Sans" font-weight="200">/</text><text x="455.3" y="-28.7" font-size="60" textLength="36.1" lengthAdjust="spacingAndGlyphs">2</text></g>
<text x="1224" y="1431.2" font-family="'Liberation Serif', serif" font-size="102.5" textLength="56" lengthAdjust="spacingAndGlyphs">E</text>
<text x="1278" y="1451" font-family="'Liberation Serif', serif" font-size="69" textLength="40" lengthAdjust="spacingAndGlyphs">g</text>
</svg>
</body></html>
